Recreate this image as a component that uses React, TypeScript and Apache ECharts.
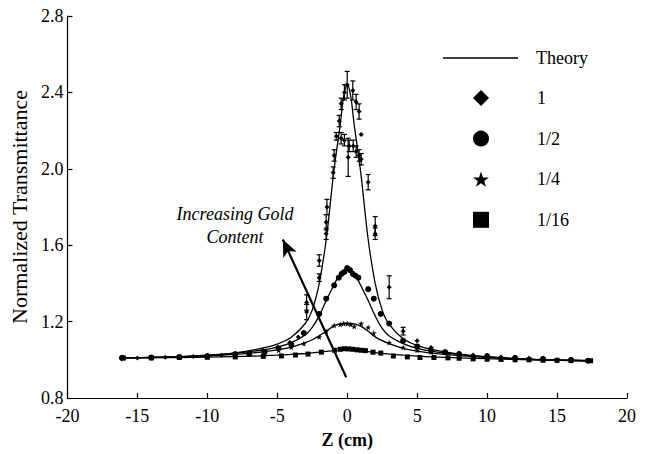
import React, { useEffect, useRef } from "react";
import * as echarts from "echarts";

// Theory curves
const theoryZ = [-16.2, -14, -12, -10, -8, -6, -5, -4, -3, -2.5, -2, -1.5, -1, -0.75, -0.5, -0.25, 0, 0.25, 0.5, 0.75, 1, 1.5, 2, 2.5, 3, 4, 5, 6, 8, 10, 12, 14, 17.3];
const theory1 = [1.010, 1.012, 1.016, 1.022, 1.036, 1.062, 1.082, 1.118, 1.19, 1.26, 1.40, 1.63, 1.96, 2.10, 2.23, 2.38, 2.44, 2.38, 2.23, 2.10, 1.96, 1.63, 1.40, 1.26, 1.185, 1.11, 1.075, 1.054, 1.030, 1.016, 1.007, 1.001, 0.995];
const theoryHalf = [1.010, 1.013, 1.017, 1.024, 1.035, 1.052, 1.066, 1.09, 1.13, 1.17, 1.23, 1.31, 1.385, 1.42, 1.45, 1.47, 1.48, 1.47, 1.45, 1.42, 1.385, 1.31, 1.23, 1.165, 1.125, 1.085, 1.06, 1.045, 1.027, 1.015, 1.006, 1.0, 0.995];
const theoryQuarter = [1.010, 1.012, 1.015, 1.02, 1.028, 1.042, 1.052, 1.066, 1.09, 1.105, 1.125, 1.15, 1.175, 1.183, 1.188, 1.19, 1.19, 1.19, 1.188, 1.183, 1.175, 1.15, 1.12, 1.10, 1.085, 1.06, 1.045, 1.035, 1.022, 1.012, 1.005, 1.0, 0.995];
const theorySixteenth = [1.010, 1.011, 1.012, 1.014, 1.017, 1.021, 1.024, 1.028, 1.033, 1.036, 1.040, 1.044, 1.048, 1.049, 1.050, 1.051, 1.051, 1.051, 1.050, 1.049, 1.047, 1.043, 1.038, 1.034, 1.030, 1.024, 1.019, 1.015, 1.010, 1.006, 1.002, 0.999, 0.995];

// Measured data: gold content 1 (diamonds, with error bars)
const d1Z = [-16.1, -15, -14, -13, -12, -11, -10, -9, -8, -7, -6, -5, -4.1, -3.5, -2.9, -2.9, -2, -2, -1.5, -1.5, -1.45, -1, -0.93, -0.78, -0.57, -0.43, -0.43, -0.2, -0.2, 0, 0.07, 0.14, 0.4, 0.43, 0.64, 0.64, 0.85, 0.85, 1.0, 1.0, 1.5, 2.0, 2.0, 3.0, 4.0, 5.0, 6.0, 7, 8, 9, 10, 11, 12, 13, 14, 15, 16, 17.2];
const d1V = [1.01, 1.01, 1.012, 1.013, 1.015, 1.017, 1.02, 1.024, 1.03, 1.036, 1.05, 1.065, 1.09, 1.12, 1.25, 1.30, 1.43, 1.52, 1.66, 1.72, 1.80, 1.98, 2.07, 2.17, 2.25, 2.16, 2.34, 2.40, 2.15, 2.44, 2.06, 2.12, 2.41, 2.12, 2.35, 2.09, 2.30, 2.07, 2.05, 2.18, 1.93, 1.70, 1.66, 1.38, 1.15, 1.10, 1.065, 1.045, 1.035, 1.025, 1.02, 1.015, 1.01, 1.008, 1.005, 1.0, 1.0, 0.995];
const d1E = [0, 0, 0, 0, 0, 0, 0, 0, 0, 0, 0, 0, 0, 0, 0.04, 0.04, 0.02, 0.03, 0.03, 0.04, 0.04, 0.03, 0.03, 0.02, 0.03, 0.03, 0.03, 0.04, 0.03, 0.07, 0.1, 0.03, 0.05, 0.03, 0.04, 0.03, 0.04, 0.03, 0.03, 0, 0.04, 0.05, 0.03, 0.06, 0.02, 0, 0, 0, 0, 0, 0, 0, 0, 0, 0, 0, 0, 0];

// Gold content 1/2 (circles)
const d2Z = [-16.1, -14, -12, -10, -8, -7, -5.9, -4.9, -4, -3.1, -2, -1.5, -0.93, -0.6, -0.4, -0.2, 0, 0.2, 0.4, 0.6, 0.8, 1.5, 1.9, 2.4, 3.0, 4.0, 5.0, 6, 7, 8, 10, 12, 14, 16, 17.2];
const d2V = [1.01, 1.012, 1.015, 1.02, 1.03, 1.03, 1.04, 1.06, 1.08, 1.14, 1.24, 1.32, 1.39, 1.43, 1.45, 1.46, 1.48, 1.47, 1.45, 1.44, 1.43, 1.37, 1.32, 1.24, 1.19, 1.10, 1.07, 1.05, 1.04, 1.03, 1.02, 1.01, 1.005, 1.0, 0.995];

// Gold content 1/4 (stars)
const d3Z = [-16, -14, -12, -10, -8, -6, -4.9, -4, -3.1, -2, -1.5, -0.93, -0.5, -0.25, 0, 0.25, 0.5, 1.0, 1.5, 1.9, 3, 4, 5, 6, 8, 10, 12, 14, 16];
const d3V = [1.01, 1.012, 1.015, 1.02, 1.028, 1.04, 1.05, 1.066, 1.085, 1.12, 1.15, 1.18, 1.185, 1.19, 1.19, 1.185, 1.175, 1.19, 1.17, 1.14, 1.09, 1.065, 1.05, 1.04, 1.025, 1.015, 1.005, 1.0, 0.998];

// Gold content 1/16 (squares)
const d4Z = [-16, -14, -12, -10, -8, -6, -4.7, -3.7, -2.8, -1.85, -0.9, -0.5, -0.2, 0.1, 0.4, 0.7, 1.0, 1.3, 1.85, 2.4, 3.3, 4.3, 5.2, 6.2, 7.2, 8, 9, 10, 11, 12, 13, 14, 15, 16, 17.4];
const d4V = [1.01, 1.01, 1.012, 1.013, 1.015, 1.018, 1.02, 1.025, 1.03, 1.04, 1.05, 1.055, 1.058, 1.057, 1.055, 1.052, 1.05, 1.048, 1.04, 1.035, 1.02, 1.015, 1.012, 1.012, 1.01, 1.008, 1.005, 1.003, 1.002, 1.0, 1.0, 0.998, 0.997, 0.996, 0.995];

// Annotation arrow (data coordinates) and its text
const arrowFrom = [-0.07, 0.909];
const arrowTo = [-4.6, 1.63];
const annotationLines = ["Increasing Gold", "Content"];

const seriesNames = ["1", "1/2", "1/4", "1/16"];

const STAR = "path://M50,0 L61.8,35.1 L97.6,34.5 L69,56.2 L79.4,90.5 L50,70 L20.6,90.5 L31,56.2 L2.4,34.5 L38.2,35.1 Z";

const FONT = "Liberation Serif";

function zip(xs: number[], ys: number[]) {
  return xs.map((x, i) => [x, ys[i]]);
}

export default function App() {
  const ref = useRef<HTMLDivElement>(null);

  useEffect(() => {
    if (!ref.current) return;
    const chart = echarts.init(ref.current, null, { renderer: "svg" });

    const theorySeries = [theory1, theoryHalf, theoryQuarter, theorySixteenth].map((vals, idx) => ({
      type: "line",
      name: "Theory",
      data: zip(theoryZ, vals),
      symbol: "none",
      showSymbol: false,
      smooth: 0.35,
      silent: true,
      z: 2,
      lineStyle: { color: "#000", width: 1.3 },
      itemStyle: { color: "#000" },
      ...(idx === 3
        ? {
            markLine: {
              silent: true,
              symbol: ["none", "arrow"],
              symbolSize: [11, 17],
              label: { show: false },
              lineStyle: { color: "#000", width: 2.2, type: "solid" },
              data: [[{ coord: arrowFrom }, { coord: arrowTo }]],
            },
          }
        : {}),
    }));

    const errData = d1Z
      .map((z, i) => [z, d1V[i] - d1E[i], d1V[i] + d1E[i]])
      .filter((d) => d[2] - d[1] > 0.001);

    const errSeries = {
      type: "custom",
      name: "err",
      data: errData,
      silent: true,
      z: 3,
      encode: { x: 0, y: [1, 2] },
      renderItem: (params: any, api: any) => {
        const x = api.value(0);
        const lo = api.coord([x, api.value(1)]);
        const hi = api.coord([x, api.value(2)]);
        const w = 2.5;
        const st = { stroke: "#000", lineWidth: 1.2 };
        return {
          type: "group",
          children: [
            { type: "line", shape: { x1: lo[0], y1: lo[1], x2: hi[0], y2: hi[1] }, style: st },
            { type: "line", shape: { x1: lo[0] - w, y1: lo[1], x2: lo[0] + w, y2: lo[1] }, style: st },
            { type: "line", shape: { x1: hi[0] - w, y1: hi[1], x2: hi[0] + w, y2: hi[1] }, style: st },
          ],
        };
      },
    };

    const scatter = (name: string, z: number[], v: number[], symbol: string, size: number) => ({
      type: "scatter",
      name,
      data: zip(z, v),
      symbol,
      symbolSize: size,
      silent: true,
      z: 4,
      itemStyle: { color: "#000", opacity: 1 },
    });

    const legendText = { fontFamily: FONT, fontSize: 18, color: "#000", lineHeight: 20 };

    chart.setOption({
      animation: false,
      backgroundColor: "#fff",
      textStyle: { fontFamily: FONT },
      grid: { left: 65, right: 24, top: 16, bottom: 51 },
      xAxis: {
        type: "value",
        min: -20,
        max: 20,
        interval: 5,
        name: "Z (cm)",
        nameLocation: "middle",
        nameGap: 33,
        nameTextStyle: { fontFamily: FONT, fontSize: 18, fontWeight: "bold", color: "#000" },
        axisLine: { onZero: false, lineStyle: { color: "#000", width: 1.2 } },
        axisTick: { inside: true, length: 5, lineStyle: { color: "#000", width: 1.2 } },
        axisLabel: { fontFamily: FONT, fontSize: 18, color: "#000", margin: 9 },
        splitLine: { show: false },
      },
      yAxis: {
        type: "value",
        min: 0.8,
        max: 2.8,
        interval: 0.4,
        name: "Normalized Transmittance",
        nameLocation: "middle",
        nameGap: 36,
        nameTextStyle: { fontFamily: FONT, fontSize: 22, color: "#000" },
        axisLine: { show: true, onZero: false, lineStyle: { color: "#000", width: 1.2 } },
        axisTick: { show: true, inside: true, length: 5, lineStyle: { color: "#000", width: 1.2 } },
        axisLabel: {
          fontFamily: FONT,
          fontSize: 18,
          color: "#000",
          margin: 4,
          formatter: (v: number) => v.toFixed(1),
        },
        splitLine: { show: false },
      },
      legend: [
        {
          orient: "vertical",
          left: 438,
          top: 43,
          itemWidth: 75,
          itemHeight: 1.5,
          selectedMode: false,
          data: [{ name: "Theory", icon: "rect" }],
          itemStyle: { color: "#000" },
          textStyle: { ...legendText, padding: [0, 0, 0, 13] },
        },
        {
          orient: "vertical",
          left: 468,
          top: 83,
          itemWidth: 16,
          itemHeight: 16,
          itemGap: 20.6,
          selectedMode: false,
          data: seriesNames,
          itemStyle: { color: "#000" },
          textStyle: { ...legendText, padding: [0, 0, 0, 43] },
        },
      ],
      graphic: annotationLines.map((t, i) => ({
        type: "text",
        x: 235,
        y: 214 + i * 23,
        silent: true,
        style: {
          text: t,
          fill: "#000",
          fontFamily: FONT,
          fontStyle: "italic",
          fontSize: 18,
          align: "center",
          verticalAlign: "middle",
        },
      })),
      series: [
        ...theorySeries,
        errSeries,
        scatter(seriesNames[0], d1Z, d1V, "diamond", 5),
        scatter(seriesNames[1], d2Z, d2V, "circle", 6),
        scatter(seriesNames[2], d3Z, d3V, STAR, 6),
        scatter(seriesNames[3], d4Z, d4V, "rect", 5),
      ],
    });

    return () => chart.dispose();
  }, []);

  return (
    <>
      <style>{`#chart-root svg text, #chart-root svg tspan { font-family: "Liberation Serif", "Times New Roman", serif !important; }`}</style>
      <div
        id="chart-root"
        ref={ref}
        style={{ position: "fixed", left: 0, top: 0, width: 651, height: 454, background: "#fff" }}
      />
    </>
  );
}
